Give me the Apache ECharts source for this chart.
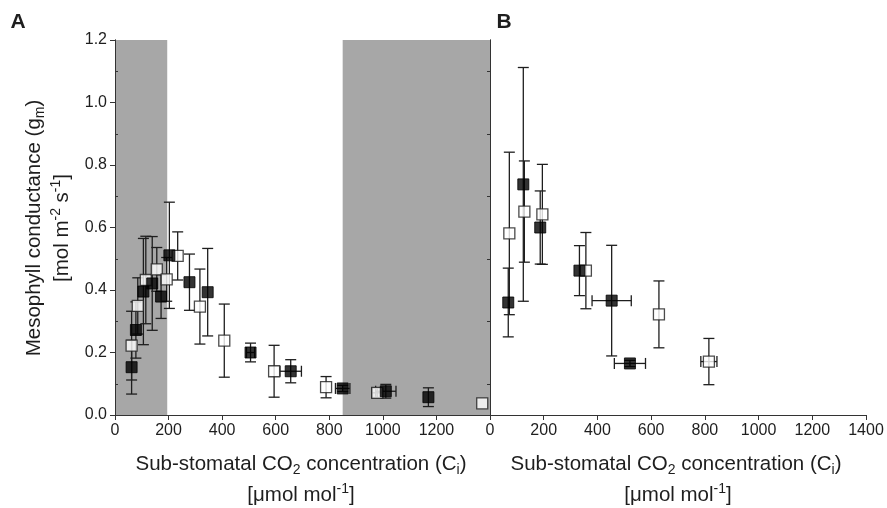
<!DOCTYPE html>
<html>
<head>
<meta charset="utf-8">
<script src="https://cdn.jsdelivr.net/npm/echarts@6/dist/echarts.min.js"></script>
<style>html,body{margin:0;padding:0;background:#fff}#c{width:887px;height:508px}</style>
</head>
<body>
<div id="c"></div>
<script>
// ---- Data ----
// Panel A, filled squares
const aFilledX    = [62, 78, 106, 139, 172, 203, 278, 346, 506, 656, 850, 1011, 1170];
const aFilledY    = [0.153, 0.272, 0.395, 0.421, 0.379, 0.511, 0.425, 0.393, 0.200, 0.140, 0.085, 0.076, 0.057];
const aFilledYErr = [0.086, 0.09, 0.17, 0.15, 0.07, 0.17, 0.09, 0.14, 0.03, 0.037, 0.01, 0.022, 0.03];
const aFilledXErr = [0, 0, 0, 0, 0, 0, 0, 0, 15, 40, 27, 38, 0];
// Panel A, open squares
const aOpenX    = [62, 85, 115, 156, 193, 234, 317, 408, 594, 788, 979, 1371];
const aOpenY    = [0.222, 0.349, 0.432, 0.466, 0.434, 0.509, 0.347, 0.238, 0.140, 0.089, 0.071, 0.037];
const aOpenYErr = [0.11, 0.09, 0.14, 0.07, 0.07, 0.077, 0.12, 0.117, 0.083, 0.034, 0.015, 0];
const aOpenXErr = [0, 0, 0, 0, 0, 0, 0, 0, 0, 0, 20, 0];
// Panel B, filled squares
const bFilledX    = [68, 124, 187, 333, 453, 521];
const bFilledY    = [0.36, 0.738, 0.60, 0.462, 0.366, 0.165];
const bFilledYErr = [0.11, 0.374, 0.117, 0.08, 0.177, 0.01];
const bFilledXErr = [0, 0, 0, 0, 73, 58];
// Panel B, open squares
const bOpenX    = [72, 128, 195, 357, 629, 815];
const bOpenY    = [0.581, 0.651, 0.642, 0.462, 0.322, 0.171];
const bOpenYErr = [0.26, 0.162, 0.16, 0.122, 0.107, 0.074];
const bOpenXErr = [0, 0, 0, 0, 0, 30];
// Shaded Ci ranges in panel A
const shadeRanges = [[0, 195], [850, 1400]];
// Axis ticks
const xTicks = [0, 200, 400, 600, 800, 1000, 1200, 1400];
const yTicks = [0, 0.2, 0.4, 0.6, 0.8, 1.0, 1.2];

// ---- helpers ----
const FONT = '"Liberation Sans", Arial, Helvetica, sans-serif';
const INK = '#1e1e1e';
function pts(xs, ys) { return xs.map((x, i) => [x, ys[i]]); }
function errs(xs, ys, xe, ye) { return xs.map((x, i) => [x, ys[i], xe[i], ye[i]]); }

function renderErr(params, api) {
  const x = api.value(0), y = api.value(1), xe = api.value(2), ye = api.value(3);
  const c = api.coord([x, y]);
  const cap = 5.5;
  const st = { stroke: INK, lineWidth: 1.3 };
  const ch = [];
  const ln = (x1, y1, x2, y2) => ({ type: 'line', shape: { x1, y1, x2, y2 }, style: st });
  if (ye > 0) {
    const t = api.coord([x, y + ye])[1], b = api.coord([x, y - ye])[1];
    ch.push(ln(c[0], t, c[0], b), ln(c[0] - cap, t, c[0] + cap, t), ln(c[0] - cap, b, c[0] + cap, b));
  }
  if (xe > 0) {
    const l = api.coord([x - xe, y])[0], r = api.coord([x + xe, y])[0];
    ch.push(ln(l, c[1], r, c[1]), ln(l, c[1] - cap, l, c[1] + cap), ln(r, c[1] - cap, r, c[1] + cap));
  }
  return { type: 'group', children: ch };
}

const axisLineStyle = { show: true, lineStyle: { color: '#333', width: 1 } };
const TICKFS = 16;
function xAx(grid, showLabels, hide1400) {
  return {
    type: 'value', gridIndex: grid, min: xTicks[0], max: xTicks[xTicks.length - 1],
    interval: xTicks[1] - xTicks[0], z: 10,
    axisLine: axisLineStyle,
    axisTick: { show: true, length: 5, lineStyle: { color: '#333' } },
    splitLine: { show: false },
    axisLabel: {
      show: showLabels, margin: 8, fontSize: TICKFS, fontFamily: FONT, color: INK,
      formatter: v => (hide1400 && v === 1400) ? '' : String(v)
    }
  };
}
function topAx(grid) {
  return {
    type: 'value', gridIndex: grid, position: 'top', min: 0, max: 1400, z: 10,
    axisLine: axisLineStyle, axisTick: { show: false }, axisLabel: { show: false }, splitLine: { show: false }
  };
}
function midTickAx(grid, pos, len) {
  return {
    type: 'value', gridIndex: grid, position: pos, min: yTicks[0], max: yTicks[yTicks.length - 1],
    interval: yTicks[1] - yTicks[0], z: 10,
    axisLine: axisLineStyle,
    axisTick: { show: false },
    minorTick: { show: true, splitNumber: 2, length: len, lineStyle: { color: '#333' } },
    splitLine: { show: false }, minorSplitLine: { show: false },
    axisLabel: { show: false }
  };
}

const option = {
  animation: false,
  backgroundColor: '#fff',
  grid: [
    { left: 115, top: 40, width: 375, height: 375 },
    { left: 490, top: 40, width: 376, height: 375 }
  ],
  xAxis: [xAx(0, true, true), xAx(1, true, false), topAx(0), topAx(1)],
  yAxis: [
    {
      type: 'value', gridIndex: 0, min: yTicks[0], max: yTicks[yTicks.length - 1],
      interval: yTicks[1] - yTicks[0], z: 10,
      axisLine: axisLineStyle,
      axisTick: { show: true, length: 5, lineStyle: { color: '#333' } },
      splitLine: { show: false },
      axisLabel: { margin: 8, fontSize: TICKFS, fontFamily: FONT, color: INK, formatter: v => v.toFixed(1) }
    },
    midTickAx(1, 'left', 3),
    midTickAx(0, 'right', 3),
    {
      type: 'value', gridIndex: 1, position: 'right', min: 0, max: 1.2, z: 10,
      axisLine: axisLineStyle, axisTick: { show: false }, axisLabel: { show: false }, splitLine: { show: false }
    }
  ],
  series: [
    {
      type: 'scatter', xAxisIndex: 0, yAxisIndex: 0, data: [], silent: true,
      markArea: {
        silent: true,
        itemStyle: { color: '#a7a7a7', opacity: 1 },
        data: shadeRanges.map(r => [{ xAxis: r[0] }, { xAxis: r[1] }])
      }
    },
    { type: 'custom', xAxisIndex: 0, yAxisIndex: 0, renderItem: renderErr, clip: false,
      data: errs(aOpenX, aOpenY, aOpenXErr, aOpenYErr), encode: { x: 0, y: 1 }, z: 3 },
    { type: 'custom', xAxisIndex: 0, yAxisIndex: 0, renderItem: renderErr, clip: false,
      data: errs(aFilledX, aFilledY, aFilledXErr, aFilledYErr), encode: { x: 0, y: 1 }, z: 3 },
    { type: 'custom', xAxisIndex: 1, yAxisIndex: 1, renderItem: renderErr, clip: false,
      data: errs(bOpenX, bOpenY, bOpenXErr, bOpenYErr), encode: { x: 0, y: 1 }, z: 3 },
    { type: 'custom', xAxisIndex: 1, yAxisIndex: 1, renderItem: renderErr, clip: false,
      data: errs(bFilledX, bFilledY, bFilledXErr, bFilledYErr), encode: { x: 0, y: 1 }, z: 3 },
    { type: 'scatter', xAxisIndex: 0, yAxisIndex: 0, symbol: 'rect', symbolSize: 11, z: 4,
      itemStyle: { color: '#fff', borderColor: INK, borderWidth: 1.3 }, data: pts(aOpenX, aOpenY) },
    { type: 'scatter', xAxisIndex: 0, yAxisIndex: 0, symbol: 'rect', symbolSize: 11, z: 5,
      itemStyle: { color: '#000', borderColor: '#000', borderWidth: 1 }, data: pts(aFilledX, aFilledY) },
    { type: 'scatter', xAxisIndex: 1, yAxisIndex: 1, symbol: 'rect', symbolSize: 11, z: 4,
      itemStyle: { color: '#fff', borderColor: INK, borderWidth: 1.3 }, data: pts(bOpenX, bOpenY) },
    { type: 'scatter', xAxisIndex: 1, yAxisIndex: 1, symbol: 'rect', symbolSize: 11, z: 5,
      itemStyle: { color: '#000', borderColor: '#000', borderWidth: 1 }, data: pts(bFilledX, bFilledY) }
  ],
  graphic: (function () {
    const rich = {
      sub: { fontSize: 14, lineHeight: 14, verticalAlign: 'bottom', fontFamily: FONT, fill: INK },
      sup: { fontSize: 14, lineHeight: 14, verticalAlign: 'top', fontFamily: FONT, fill: INK }
    };
    const base = { fontSize: 20.5, lineHeight: 26, fontFamily: FONT, fill: INK, align: 'center', verticalAlign: 'middle', rich };
    const t = (x, y, text, rot, extra) => ({ type: 'text', x, y, rotation: rot || 0, z: 20,
      style: Object.assign({}, base, { text }, extra || {}) });
    return [
      t(18, 22, 'A', 0, { fontSize: 21, fontWeight: 'bold' }),
      t(504, 22, 'B', 0, { fontSize: 21, fontWeight: 'bold' }),
      t(34, 228, 'Mesophyll conductance (g{sub|m})', Math.PI / 2),
      t(62, 228, '[mol m{sup|-2} s{sup|-1}]', Math.PI / 2),
      t(301, 464, 'Sub-stomatal CO{sub|2} concentration (C{sub|i})'),
      t(301, 495, '[μmol mol{sup|-1}]'),
      t(676, 464, 'Sub-stomatal CO{sub|2} concentration (C{sub|i})'),
      t(678, 495, '[μmol mol{sup|-1}]')
    ];
  })()
};
const chart = echarts.init(document.getElementById('c'), null, { renderer: 'canvas' });
chart.setOption(option);
</script>
</body>
</html>
